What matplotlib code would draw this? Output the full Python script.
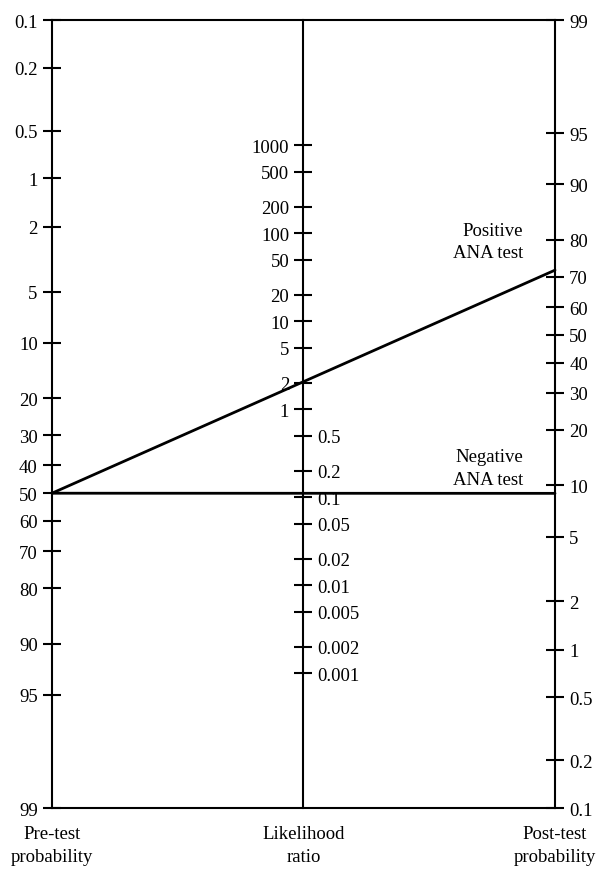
import matplotlib
matplotlib.use("Agg")
import matplotlib.pyplot as plt
from matplotlib.patches import ConnectionPatch
from matplotlib.ticker import NullLocator

plt.rcParams['font.family'] = ['Liberation Serif', 'DejaVu Serif']

# scale values (probabilities in %)
pre_ticks = [0.1, 0.2, 0.5, 1, 2, 5, 10, 20, 30, 40, 50, 60, 70, 80, 90, 95, 99]
post_ticks = [0.1, 0.2, 0.5, 1, 2, 5, 10, 20, 30, 40, 50, 60, 70, 80, 90, 95, 99]
lr_high = [1, 2, 5, 10, 20, 50, 100, 200, 500, 1000]
lr_low = [0.001, 0.002, 0.005, 0.01, 0.02, 0.05, 0.1, 0.2, 0.5]

# the two test results drawn across the nomogram
tests = ['Positive\nANA test', 'Negative\nANA test']
pre_prob = [50, 50]
post_prob = [72, 9]
label_pos = [(0.936, 0.719), (0.936, 0.4315)]

FS = 13.5
LW = 1.5

def style(a):
    a.yaxis.set_minor_locator(NullLocator())
    a.tick_params(axis='y', direction='inout', length=12.5, width=LW,
                  pad=4, labelsize=FS, colors='black')

fig = plt.figure(figsize=(6.03, 8.70), dpi=100)
ax = fig.add_axes([0.0862, 0.0701, 0.8342, 0.9057])

# left axis: pre-test probability (0.1 at top)
ax.set_yscale('logit')
ax.set_ylim(0.99, 0.001)
ax.set_xlim(0, 1)
ax.set_xticks([])
ax.set_yticks([v / 100 for v in pre_ticks], [f"{v:g}" for v in pre_ticks])
style(ax)
for s in ax.spines.values():
    s.set_linewidth(LW)

# right axis: post-test probability (99 at top)
ax_r = ax.twinx()
ax_r.set_yscale('logit')
ax_r.set_ylim(0.001, 0.99)
ax_r.set_yticks([v / 100 for v in post_ticks], [f"{v:g}" for v in post_ticks])
style(ax_r)
for s in ax_r.spines.values():
    s.set_visible(False)

# middle axis: likelihood ratio, labels left for >=1, right for <1
lr_lim = (10 ** -4.534, 10 ** 4.42)
ax_m1 = ax.twinx()
ax_m1.set_yscale('log')
ax_m1.set_ylim(*lr_lim)
ax_m1.yaxis.tick_left()
ax_m1.set_yticks(lr_high, [f"{v:g}" for v in lr_high])
style(ax_m1)
for k, s in ax_m1.spines.items():
    s.set_visible(k == 'left')
ax_m1.spines['left'].set_position(('axes', 0.5))
ax_m1.spines['left'].set_linewidth(LW)

ax_m2 = ax.twinx()
ax_m2.set_yscale('log')
ax_m2.set_ylim(*lr_lim)
ax_m2.set_yticks(lr_low, [f"{v:g}" for v in lr_low])
style(ax_m2)
for k, s in ax_m2.spines.items():
    s.set_visible(False)
ax_m2.spines['right'].set_position(('axes', 0.5))

# test lines from pre-test to post-test probability
for name, p0, p1, (tx, ty) in zip(tests, pre_prob, post_prob, label_pos):
    con = ConnectionPatch(xyA=(0, p0 / 100), coordsA=ax.transData,
                          xyB=(1, p1 / 100), coordsB=ax_r.transData,
                          color='black', linewidth=2.0, zorder=5)
    fig.add_artist(con)
    ax.text(tx, ty, name, transform=ax.transAxes, ha='right', va='center',
            multialignment='right', fontsize=FS, linespacing=1.45)

# axis titles below
for x, t in [(0, 'Pre-test\nprobability'), (0.5, 'Likelihood\nratio'),
             (1, 'Post-test\nprobability')]:
    ax.text(x, -0.022, t, transform=ax.transAxes, ha='center', va='top',
            fontsize=FS, linespacing=1.45)

fig.savefig('out.png', dpi=100)
